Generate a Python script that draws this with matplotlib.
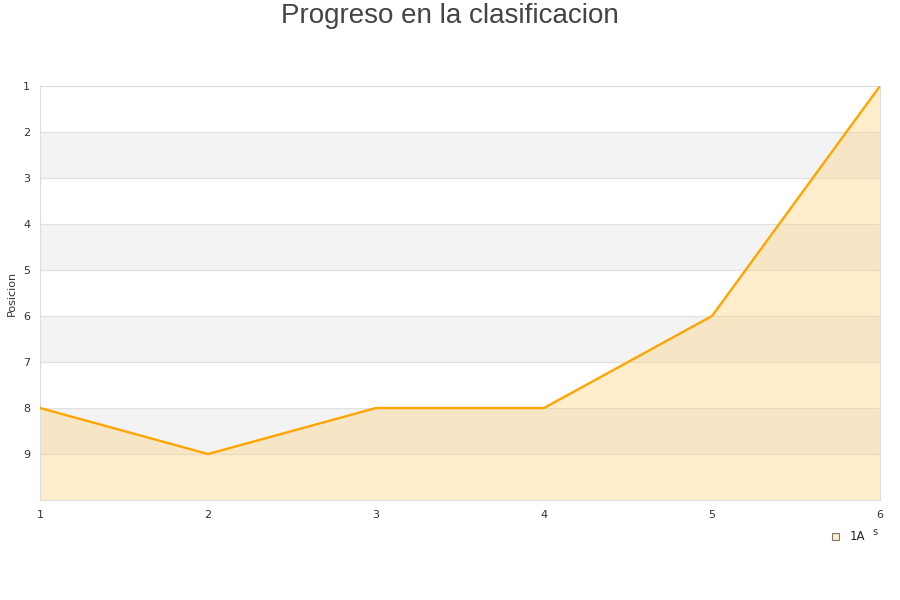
import matplotlib
matplotlib.use("Agg")
import matplotlib.pyplot as plt
from matplotlib.patches import Rectangle

jornadas = [1, 2, 3, 4, 5, 6]
posicion = [8, 9, 8, 8, 6, 1]
serie = "1A"

fig = plt.figure(figsize=(9, 6), dpi=100)
ax = fig.add_axes([40/900, 1-500/600, 840/900, 414/600])

# bandas alternas
for k in range(1, 10):
    if k % 2 == 0:
        ax.axhspan(k, k+1, color="#f3f3f3", zorder=0, lw=0)
for k in range(2, 10):
    ax.axhline(k, color="#e0e0e0", lw=0.8, zorder=1)

ax.fill_between(jornadas, posicion, 10, color="#ffd27a", alpha=0.38, lw=0, zorder=2)
ax.plot(jornadas, posicion, color="#ffa500", lw=1.7, zorder=3)

ax.set_xlim(1, 6)
ax.set_ylim(10, 1)
ax.set_yticks(range(1, 10))
ax.set_xticks(jornadas)
for s in ax.spines.values():
    s.set_color("#dddddd")
ax.tick_params(length=0, labelsize=8, colors="#333333")
ax.tick_params(axis="y", pad=7)
ax.tick_params(axis="x", pad=7)
ax.set_ylabel("Posicion", fontsize=8, color="#333333")
ax.yaxis.set_label_coords(-23/840, 0.5)

fig.text(0.5, 1-16/600, "Progreso en la clasificacion", ha="center", va="center",
         fontsize=20, color="#444444", family="Liberation Sans")

# leyenda
fig.patches.append(Rectangle((832/900, 1-540/600), 7/900, 7/600, transform=fig.transFigure,
                             facecolor="#ffecc8", edgecolor="#777777", lw=0.8))
fig.text(850/900, 1-536/600, serie, fontsize=8.5, color="#222222", va="center")
fig.text(872/900, 1-532/600, "s", fontsize=7, color="#333333", va="center")

fig.savefig("out.png", dpi=100)
